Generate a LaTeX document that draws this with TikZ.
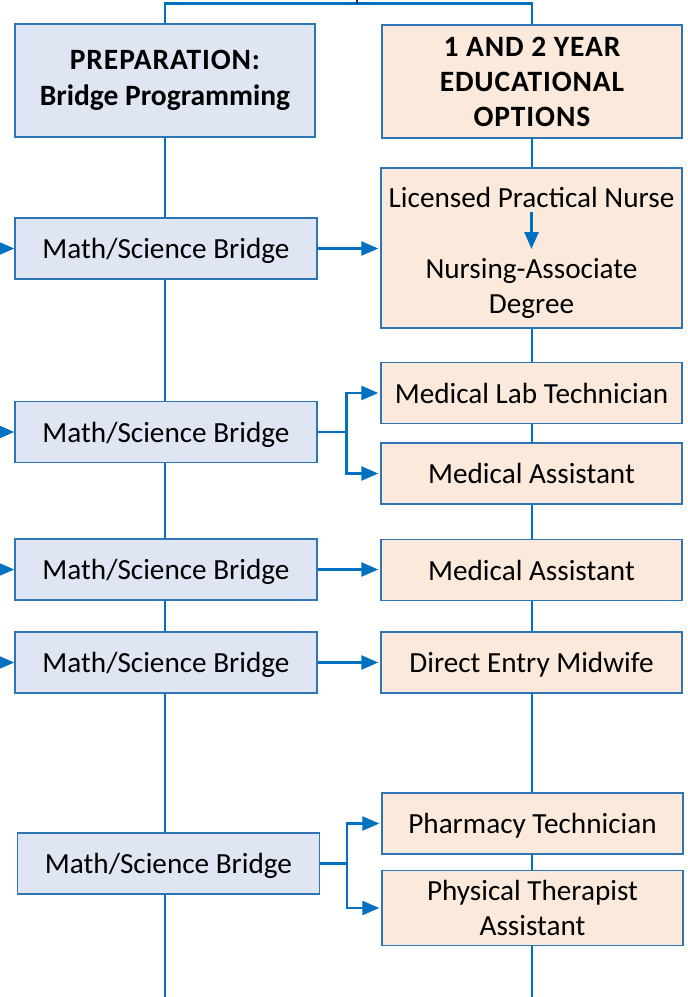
\documentclass[tikz,border=0pt]{standalone}
\usepackage{fontspec}
\setmainfont{Carlito}
\usetikzlibrary{arrows.meta,backgrounds}
\definecolor{lineblue}{HTML}{0070C0}
\definecolor{edgeblue}{HTML}{2E75B6}
\definecolor{leftfill}{HTML}{DFE5F3}
\definecolor{rightfill}{HTML}{FBEADC}
\definecolor{tickdark}{HTML}{1F2A33}
\newcommand{\capsfont}{\bfseries\fontsize{29.5}{35}\selectfont\addfontfeature{LetterSpace=3}}
\tikzset{
  conn/.style={draw=lineblue, line width=2.5pt},
  arr/.style={conn, -{Triangle[length=17pt,width=14pt]}},
  rarr/.style={arr, shorten >=2pt},
  lbox/.style={draw=edgeblue, line width=1.4pt, fill=leftfill, minimum width=302pt, minimum height=61pt, inner sep=0pt, align=center, text depth=0pt, font=\fontsize{29.2}{35}\selectfont},
  rbox/.style={draw=edgeblue, line width=1.4pt, fill=rightfill, minimum width=301pt, minimum height=61pt, inner sep=0pt, align=center, text depth=0pt, font=\fontsize{29.2}{35}\selectfont},
  txt/.style={inner sep=0pt, align=center, font=\fontsize{29.2}{35}\selectfont},
}
\begin{document}
\begin{tikzpicture}[x=1pt,y=-1pt]
\useasboundingbox (0,0) rectangle (688,997);
% headers
\node[lbox, minimum width=300pt, minimum height=113pt, text depth=, font=\bfseries\fontsize{29.5}{36}\selectfont] (h1) at (165,80.5) {{\addfontfeature{LetterSpace=3}PREPARATION:}\\Bridge Programming};
\node[rbox, minimum width=300pt, minimum height=113pt, text depth=, font=\capsfont] (h2) at (532,81.5) {1 AND 2 YEAR\\EDUCATIONAL\\OPTIONS};
% left column
\node[lbox] (m1) at (166,248.5) {Math/Science Bridge};
\node[lbox] (m2) at (166,432) {Math/Science Bridge};
\node[lbox] (m3) at (166,569.5) {Math/Science Bridge};
\node[lbox] (m4) at (166,662.5) {Math/Science Bridge};
\node[lbox] (m5) at (168.5,863.5) {Math/Science Bridge};
% right column
\node[rbox, minimum height=160pt] (r1) at (531.5,248) {};
\node[txt] (lpn) at (531.5,197) {Licensed Practical Nurse};
\node[txt] (nad) at (531.5,288) {Nursing-Associate\\Degree};
\node[rbox] (r2a) at (531.5,393) {Medical Lab Technician};
\node[rbox] (r2b) at (531.5,473.5) {Medical Assistant};
\node[rbox] (r3) at (531.5,570) {Medical Assistant};
\node[rbox] (r4) at (531.5,662.5) {Direct Entry Midwife};
\node[rbox] (r5a) at (532.5,823.5) {Pharmacy Technician};
\node[rbox, minimum height=75pt, text depth=] (r5b) at (532.5,908) {Physical Therapist\\Assistant};
% free ends
\coordinate (topin) at (357,0);
\coordinate (topbar) at (357,3.5);
\coordinate (bl) at (165,997);
\coordinate (br) at (532,997);
\coordinate (in1) at (0,248.5);
\coordinate (in2) at (0,432);
\coordinate (in3) at (0,569.5);
\coordinate (in4) at (0,662.5);
\coordinate (lpnend) at (531.5,249);
\begin{scope}[on background layer]
\draw[conn] (h1.north) -- ++(0,-20) -| (h2.north);
\draw[draw=tickdark, line width=2.5pt] (topin) -- (topbar);
\draw[conn] (h1.south) -- (bl);
\draw[conn] (h2.south) -- (br);
\end{scope}
\draw[arr] ([yshift=-5pt]lpn.south) -- (lpnend);
\draw[arr] (in1) -- (m1.west);
\draw[arr] (in2) -- (m2.west);
\draw[arr] (in3) -- (m3.west);
\draw[arr] (in4) -- (m4.west);
\draw[rarr] (m1.east) -- (m1.east -| r1.west);
\draw[conn] (m2.east) -- ++(29,0) coordinate (b2);
\draw[rarr] (b2) |- (r2a.west);
\draw[rarr] (b2) |- (r2b.west);
\draw[rarr] (m3.east) -- (m3.east -| r3.west);
\draw[rarr] (m4.east) -- (m4.east -| r4.west);
\draw[conn] (m5.east) -- ++(27,0) coordinate (b5);
\draw[rarr] (b5) |- (r5a.west);
\draw[rarr] (b5) |- (r5b.west);
\end{tikzpicture}
\end{document}
